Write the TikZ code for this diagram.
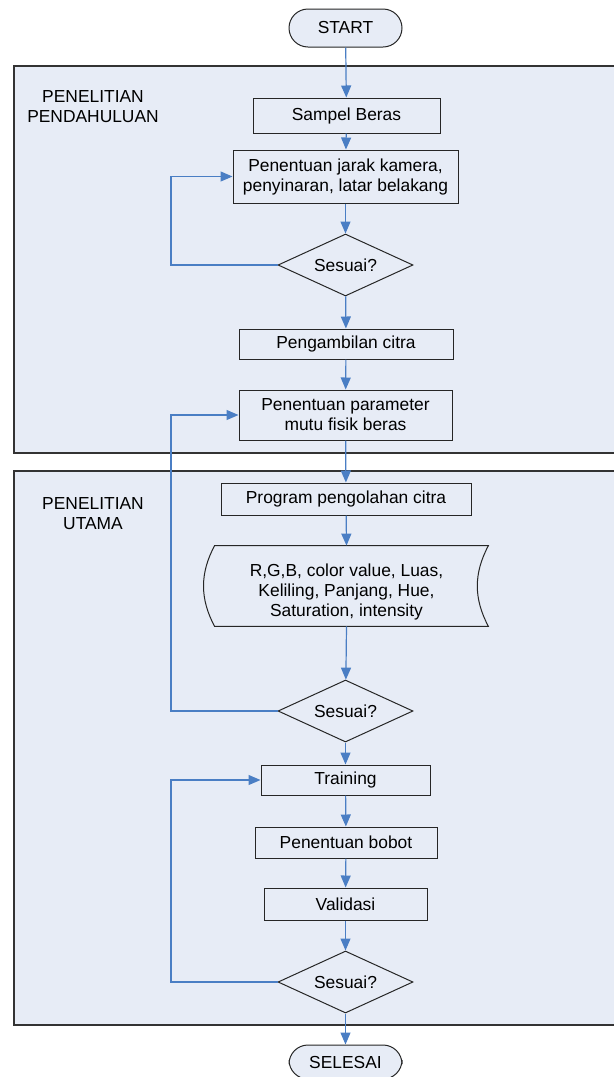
\documentclass[tikz,border=0pt]{standalone}
\usepackage{fontspec}
\setmainfont{Liberation Sans}
\usetikzlibrary{arrows.meta,shapes.geometric}

\definecolor{panelblue}{RGB}{231,236,246}
\definecolor{flowblue}{RGB}{74,126,196}

\tikzset{
  txt/.style={font=\fontsize{8.7}{10}\selectfont, align=center},
  panel/.style={draw=black!80, fill=panelblue, line width=0.6pt},
  box/.style={txt, draw=black!85, fill=panelblue, line width=0.5pt, inner sep=0pt},
  terminal/.style={box, rounded corners=9.5pt},
  decision/.style={box, diamond, aspect=2.2, minimum width=67.5pt, minimum height=31pt},
  flow/.style={draw=flowblue, line width=0.6pt, -{Triangle[width=5pt,length=6pt]}},
}

\begin{document}
\begin{tikzpicture}[x=0.5pt, y=-0.5pt]
    \clip (0,0) rectangle (614,1077);

    % two stages of the research
    \draw[panel] (14,66) rectangle (640,453);
    \draw[panel] (14,471) rectangle (640,1025);
    \node[txt] (lbla) at (93,107) {PENELITIAN\\PENDAHULUAN};
    \node[txt] (lblb) at (93,514) {PENELITIAN\\UTAMA};

    \node[terminal, minimum width=56.5pt, minimum height=19pt] (start) at (345.5,28) {START};
    \node[box, minimum width=93.5pt, minimum height=17.5pt] (sampel) at (346.5,115.5) {Sampel Beras};
    \node[box, minimum width=112.5pt, minimum height=26.5pt] (jarak) at (345.5,176.5) {Penentuan jarak kamera,\\penyinaran, latar belakang};
    \node[decision] (cek1) at (345.5,265) {Sesuai?};
    \node[box, minimum width=107pt, minimum height=15pt] (ambil) at (346,344) {Pengambilan citra};
    \node[box, minimum width=106.5pt, minimum height=25pt] (param) at (345.5,415) {Penentuan parameter\\mutu fisik beras};

    \node[box, minimum width=125pt, minimum height=16pt] (program) at (346,499) {Program pengolahan citra};
    \node[txt, minimum width=141.5pt, minimum height=40pt, inner sep=0pt] (data) at (346.5,586) {\rule{0pt}{12.5pt}R,G,B, color value, Luas,\\Keliling, Panjang, Hue,\\Saturation, intensity};
    \draw[draw=black!85, line width=0.5pt] ([xshift=5pt]data.north west) to[bend right=28] ([xshift=5pt]data.south west)
        -- (data.south east) to[bend left=28] (data.north east) -- cycle;
    \node[decision] (cek2) at (345.5,711) {Sesuai?};
    \node[box, minimum width=84.5pt, minimum height=15pt] (training) at (345.5,780) {Training};
    \node[box, minimum width=91pt, minimum height=15.5pt] (bobot) at (346,842.5) {Penentuan bobot};
    \node[box, minimum width=81.5pt, minimum height=16pt] (validasi) at (345.5,904) {Validasi};
    \node[decision] (cek3) at (345.5,982) {Sesuai?};
    \node[terminal, minimum width=56.5pt, minimum height=17pt] (selesai) at (345.5,1062) {SELESAI};

    \draw[flow] (start) -- (sampel);
    \draw[flow] (sampel) -- (jarak);
    \draw[flow] (jarak) -- (cek1);
    \draw[flow] (cek1) -- (ambil);
    \draw[flow] (ambil) -- (param);
    \draw[flow] (param) -- (program);
    \draw[flow] (program) -- (data.north);
    \draw[flow] (data.south) -- (cek2);
    \draw[flow] (cek2) -- (training);
    \draw[flow] (training) -- (bobot);
    \draw[flow] (bobot) -- (validasi);
    \draw[flow] (validasi) -- (cek3);
    \draw[flow] (cek3) -- (selesai);

    % back loops
    \coordinate (rail) at (171,0);
    \draw[flow] (cek1.west) -- (cek1.west -| rail) |- (jarak.west);
    \draw[flow] (cek2.west) -- (cek2.west -| rail) |- (param.west);
    \draw[flow] (cek3.west) -- (cek3.west -| rail) |- (training.west);
\end{tikzpicture}
\end{document}
